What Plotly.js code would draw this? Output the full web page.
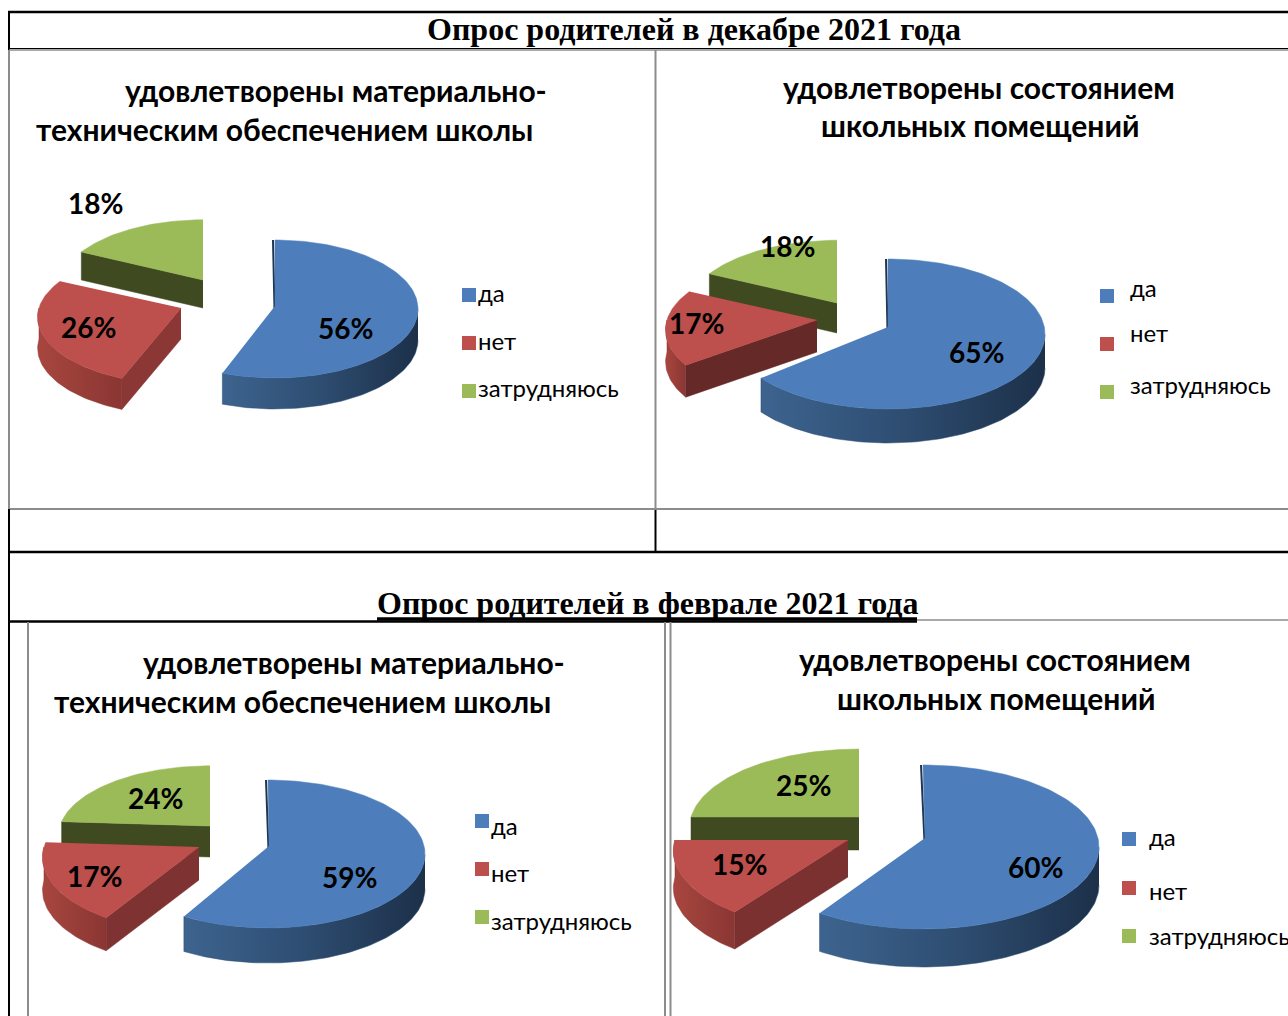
<!DOCTYPE html>
<html><head><meta charset="utf-8">
<script src="https://cdn.plot.ly/plotly-3.0.1.min.js"></script>
<style>html,body{margin:0;padding:0;background:#fff}#c{width:1288px;height:1016px}</style>
</head><body><div id="c"></div>
<script>
const categories = ['да', 'нет', 'затрудняюсь'];
const decMaterial = [56, 26, 18];
const decRooms = [65, 17, 18];
const febMaterial = [59, 17, 24];
const febRooms = [60, 15, 25];
const heading1 = 'Опрос родителей в декабре 2021 года';
const heading2 = 'Опрос родителей в феврале 2021 года';
const titleMaterial = ['удовлетворены материально-', 'техническим обеспечением школы'];
const titleRooms = ['удовлетворены состоянием', 'школьных помещений'];

const BODY = 'Lato, "Noto Sans", sans-serif';
const SERIF = '"Liberation Serif", serif';
const C = {blue:'#4d7ebb', red:'#bd4f4c', green:'#9bbb59', olive:'#3f4a20', blueEdge:'#1f3552',
  blueWall:[[0,'#3d648f'],[0.5,'#2e4d71'],[1,'#1c3049']], redWall:[[0,'#a8463f'],[1,'#8a3633']]};

const charts = [
 {values:decMaterial, title:titleMaterial,
  blue:{cx:275,cy:309,ax:275,ay:306,rx:143,ry:69,d:31}, red:{ax:181,ay:308,rx:142,ry:67,d:31,cut:'#8a3735'}, green:{ax:203,ay:280,rx:143,ry:70,d:28},
  labelPos:[[95,203],[88,327],[345,328]].reverse(), titlePos:[[336,90],[284,129]],
  legendMark:[[469,295],[469,343],[469,391]], legendText:[[476,292],[476,340],[476,387]]},
 {values:decRooms, title:titleRooms,
  blue:{cx:888,cy:334,ax:888,ay:327,rx:157,ry:75,d:34}, red:{ax:817,ay:320,rx:150,ry:71,d:32,cut:'#652927'}, green:{ax:837,ay:303,rx:150,ry:73,d:30},
  labelPos:[[976,352],[696,323],[787,246]], titlePos:[[979,87],[980,125]],
  legendMark:[[1107,296],[1107,344],[1107,392]], legendText:[[1128,287],[1128,332],[1128,384]]},
 {values:febMaterial, title:titleMaterial,
  blue:{cx:268,cy:854,ax:269,ay:846,rx:157,ry:74,d:35}, red:{ax:199,ay:847,rx:155,ry:75,d:33,cut:'#7e3332'}, green:{ax:210,ay:826,rx:150,ry:70,d:31},
  labelPos:[[349,877],[94,876],[155,798]], titlePos:[[354,662],[302,701]],
  legendMark:[[482,821],[482,869],[482,917]], legendText:[[489,825],[489,872],[489,920]]},
 {values:febRooms, title:titleRooms,
  blue:{cx:923,cy:847,ax:925,ay:838,rx:176,ry:82,d:38}, red:{ax:848,ay:840,rx:173,ry:80,d:37,cut:'#7a3130'}, green:{ax:859,ay:817,rx:168,ry:79,d:33},
  labelPos:[[1035,867],[739,864],[803,785]], titlePos:[[995,659],[996,698]],
  legendMark:[[1129,839],[1129,888],[1129,936]], legendText:[[1147,836],[1147,890],[1147,935]]}
];

const K = 0.14;
function pt(g, deg, k){
  const t = deg*Math.PI/180, r = 1 - k*Math.cos(t);
  const cx = g.cx===undefined ? g.ax : g.cx, cy = g.cy===undefined ? g.ay : g.cy;
  return [cx + g.rx*r*Math.sin(t), cy - g.ry*r*Math.cos(t)];
}
function arc(g, a, b, k){
  const p = [], n = Math.max(2, Math.ceil(Math.abs(b-a)/1.5));
  for (let i=0;i<=n;i++) p.push(pt(g, a+(b-a)*i/n, k));
  return p;
}
function poly(points, color, gradient){
  const tr = {type:'scatter', mode:'lines', x:points.map(p=>p[0]), y:points.map(p=>p[1]),
    fill:'toself', line:{width:0.5, color: gradient ? gradient[Math.floor(gradient.length/2)][1] : color}, hoverinfo:'skip', showlegend:false};
  if (gradient) tr.fillgradient = {type:'horizontal', colorscale:gradient};
  else tr.fillcolor = color;
  return tr;
}
function wall(g, a, b, k){
  const top = arc(g, a, b, k);
  const bot = top.map(p=>[p[0], p[1]+g.d]).reverse();
  return top.concat(bot);
}
function cutFace(g, deg, k){
  const c = pt(g, deg, k);
  return [[g.ax,g.ay],c,[c[0],c[1]+g.d],[g.ax,g.ay+g.d]];
}

const traces = [], annotations = [];
function label(x, y, text, size, bold, anchor, family){
  annotations.push({xref:'x', yref:'y', x, y, text: bold ? '<b>'+text+'</b>' : text, showarrow:false,
    xanchor:anchor||'center', yanchor:'middle', font:{family:family||BODY, size, color:'#000'}});
}

charts.forEach(ch=>{
  const total = ch.values.reduce((s,v)=>s+v,0);
  const a1 = ch.values[0]/total*360, a2 = a1 + ch.values[1]/total*360;
  traces.push(poly(cutFace(ch.green, a2, K), C.olive));
  traces.push(poly([[ch.green.ax,ch.green.ay]].concat(arc(ch.green, a2, 360, K)), C.green));
  traces.push(poly(wall(ch.red, a1, Math.min(a2,270), K), null, C.redWall));
  traces.push(poly(cutFace(ch.red, a1, K), ch.red.cut));
  traces.push(poly([[ch.red.ax,ch.red.ay]].concat(arc(ch.red, a1, a2, K)), C.red));
  traces.push(poly(wall(ch.blue, 90, a1, 0), null, C.blueWall));
  const topPt = pt(ch.blue, 0, 0);
  traces.push({type:'scatter', mode:'lines', x:[topPt[0]-2,ch.blue.ax-0.5], y:[topPt[1],ch.blue.ay+4],
    line:{width:2,color:C.blueEdge}, hoverinfo:'skip', showlegend:false});
  traces.push(poly([[ch.blue.ax,ch.blue.ay]].concat(arc(ch.blue, 0, a1, 0)), C.blue));
  ch.values.forEach((v,i)=> label(ch.labelPos[i][0], ch.labelPos[i][1], v+'%', 28, true));
  ch.title.forEach((t,i)=> label(ch.titlePos[i][0], ch.titlePos[i][1], t, 30, true));
  categories.forEach((c,i)=> label(ch.legendText[i][0], ch.legendText[i][1], c, 24, false, 'left'));
  traces.push({type:'scatter', mode:'markers', x:ch.legendMark.map(p=>p[0]), y:ch.legendMark.map(p=>p[1]),
    marker:{symbol:'square', size:14, color:[C.blue,C.red,C.green], line:{width:0}}, hoverinfo:'skip', showlegend:false});
});

label(694, 28.5, heading1, 32, true, 'center', SERIF);
label(647, 603, heading2, 32, true, 'center', SERIF);

function seg(x0,y0,x1,y1,color,width){
  return {type:'line', xref:'x', yref:'y', x0,y0,x1,y1, line:{color,width}, layer:'below'};
}
const GRAY = '#8c8c8c', BLACK = '#000';
const shapes = [
  seg(8,12,1288,12,BLACK,2.5),
  seg(9,11,9,50,BLACK,2),
  seg(9,48.5,1288,48.5,BLACK,1),
  seg(9,50,1288,50,GRAY,1.5),
  seg(9,50,9,509,GRAY,2),
  seg(655.5,50,655.5,509,GRAY,2),
  seg(8,509,1288,509,GRAY,2),
  seg(9,509,9,1016,BLACK,2),
  seg(655.5,510,655.5,552,BLACK,2),
  seg(8,552,1288,552,BLACK,2.5),
  seg(8,621.5,917,621.5,BLACK,2.5),
  seg(917,620,1288,620,GRAY,1.5),
  seg(377,619,917,619,BLACK,3.5),
  seg(28,622,28,1016,GRAY,2),
  seg(665,622,665,1016,GRAY,2),
  seg(670.5,622,670.5,1016,GRAY,2)
];

Plotly.newPlot('c', traces, {
  width:1288, height:1016, margin:{l:0,r:0,t:0,b:0}, paper_bgcolor:'#fff', plot_bgcolor:'#fff', showlegend:false,
  xaxis:{range:[0,1288], visible:false, fixedrange:true},
  yaxis:{range:[1016,0], visible:false, fixedrange:true},
  shapes, annotations
}, {displayModeBar:false, staticPlot:true});
</script></body></html>
